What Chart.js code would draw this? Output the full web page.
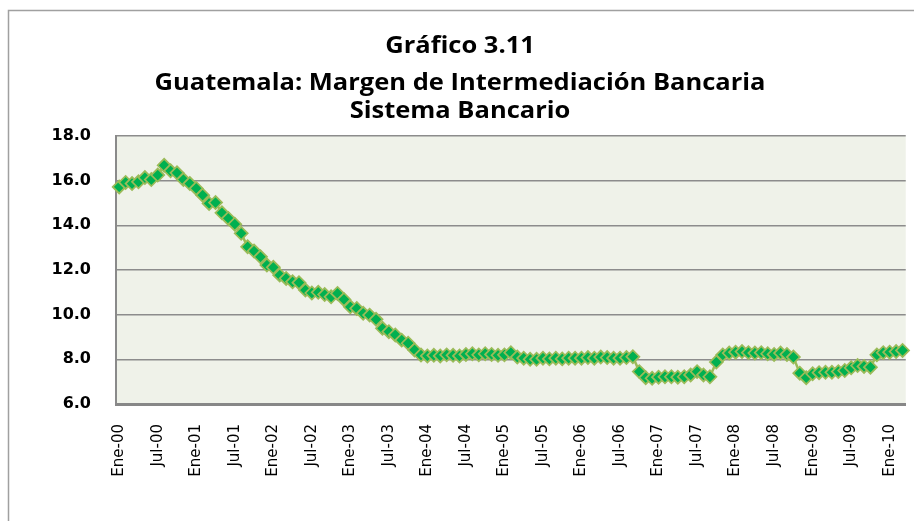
<!DOCTYPE html>
<html><head><meta charset="utf-8">
<script src="https://cdn.jsdelivr.net/npm/chart.js@4"></script>
<style>html,body{margin:0;padding:0;background:#fff;}canvas{display:block;}</style>
</head><body>
<canvas id="c" width="914" height="521"></canvas>
<script>
// ---- DATA ----
const titleLines = ["Gráfico 3.11", "Guatemala: Margen de Intermediación Bancaria", "Sistema Bancario"];
const monthNames = ["Ene","Feb","Mar","Abr","May","Jun","Jul","Ago","Sep","Oct","Nov","Dic"];
const yearSuffixes = ["00","01","02","03","04","05","06","07","08","09","10"];
const margen2000 = [15.72, 15.92, 15.87, 15.95, 16.14, 16.05, 16.25, 16.69, 16.44, 16.35, 16.05, 15.87];
const margen2001 = [15.65, 15.35, 14.98, 15.02, 14.56, 14.31, 14.05, 13.64, 13.04, 12.85, 12.59, 12.22];
const margen2002 = [12.12, 11.77, 11.62, 11.47, 11.43, 11.10, 10.97, 11.00, 10.90, 10.80, 10.95, 10.68];
const margen2003 = [10.35, 10.28, 10.06, 9.98, 9.79, 9.39, 9.24, 9.09, 8.86, 8.72, 8.42, 8.19];
const margen2004 = [8.15, 8.18, 8.15, 8.20, 8.18, 8.15, 8.22, 8.25, 8.20, 8.25, 8.22, 8.18];
const margen2005 = [8.20, 8.30, 8.10, 8.05, 8.00, 8.00, 8.05, 8.02, 8.05, 8.02, 8.05, 8.05];
const margen2006 = [8.05, 8.08, 8.05, 8.10, 8.08, 8.05, 8.05, 8.08, 8.12, 7.45, 7.18, 7.15];
const margen2007 = [7.20, 7.22, 7.22, 7.20, 7.22, 7.30, 7.45, 7.30, 7.22, 7.88, 8.20, 8.28];
const margen2008 = [8.32, 8.35, 8.30, 8.28, 8.30, 8.25, 8.22, 8.28, 8.22, 8.10, 7.38, 7.18];
const margen2009 = [7.35, 7.40, 7.42, 7.42, 7.45, 7.50, 7.62, 7.72, 7.68, 7.65, 8.20, 8.30];
const margen2010 = [8.32, 8.35, 8.40];
const yMin = 6, yMax = 18, yStep = 2;
const labelEvery = 6;

const values = [].concat(margen2000, margen2001, margen2002, margen2003, margen2004,
  margen2005, margen2006, margen2007, margen2008, margen2009, margen2010);
const categories = [];
yearSuffixes.forEach(y => monthNames.forEach(m => { if (categories.length < values.length) categories.push(m + "-" + y); }));

// ---- PLUGINS ----
const frame = {
  id: 'frame',
  beforeDraw(chart) {
    const ctx = chart.ctx, a = chart.chartArea;
    ctx.save();
    ctx.fillStyle = '#ffffff';
    ctx.fillRect(0, 0, chart.width, chart.height);
    ctx.strokeStyle = '#a0a0a0';
    ctx.lineWidth = 1.5;
    ctx.beginPath();
    ctx.moveTo(8.5, chart.height + 2);
    ctx.lineTo(8.5, 10.5);
    ctx.lineTo(chart.width + 2, 10.5);
    ctx.stroke();
    ctx.fillStyle = '#eff2e9';
    ctx.fillRect(a.left, a.top, a.right - a.left, a.bottom - a.top);
    ctx.restore();
  }
};
const titleDraw = {
  id: 'titleDraw',
  afterDraw(chart) {
    const ctx = chart.ctx;
    const baselines = [53, 90, 118];
    const cx = 460;
    ctx.save();
    ctx.font = 'bold 23px "Open Sans"';
    ctx.fillStyle = '#000';
    ctx.textAlign = 'center';
    ctx.textBaseline = 'alphabetic';
    const w2 = ctx.measureText(titleLines[1]).width;
    const sx = 611 / w2;
    titleLines.forEach((t, i) => {
      ctx.save();
      ctx.translate(cx, baselines[i]);
      ctx.scale(sx, 1);
      ctx.fillText(t, 0, 0);
      ctx.restore();
    });
    ctx.restore();
  }
};

new Chart(document.getElementById('c'), {
  type: 'line',
  data: {
    labels: categories,
    datasets: [{
      data: values,
      borderColor: '#9bbb59',
      borderWidth: 2.5,
      pointStyle: 'rectRot',
      pointRadius: 6.5,
      pointBackgroundColor: '#00b050',
      pointBorderColor: '#9bbb59',
      pointBorderWidth: 1.75,
      tension: 0,
      fill: false
    }]
  },
  options: {
    responsive: false,
    animation: false,
    events: [],
    layout: { padding: { top: 136, right: 7, bottom: 0, left: 0 } },
    plugins: { legend: { display: false }, title: { display: false }, tooltip: { enabled: false } },
    scales: {
      x: {
        type: 'category',
        offset: true,
        grid: { display: true, color: 'rgba(0,0,0,0)', drawTicks: false },
        border: { display: true, color: '#878787', width: 3 },
        ticks: {
          autoSkip: false,
          minRotation: 90,
          maxRotation: 90,
          padding: 20,
          color: '#000',
          font: { family: '"DejaVu Sans"', size: 15 },
          callback: function(v, i) { return i % labelEvery === 0 ? categories[i] : ''; }
        },
        afterFit(scale) { scale.height = 117; scale.paddingRight = 0; scale.paddingLeft = 0; }
      },
      y: {
        min: yMin,
        max: yMax,
        grid: { color: '#8c8c8c', lineWidth: 1.5, drawTicks: false },
        border: { display: true, color: '#8a8a8a', width: 2 },
        ticks: {
          stepSize: yStep,
          padding: 25,
          color: '#000',
          font: { family: '"DejaVu Sans"', size: 16, weight: 'bold' },
          callback: v => Number(v).toFixed(1)
        },
        afterFit(scale) { scale.width = 116; scale.paddingTop = 0; scale.paddingBottom = 0; }
      }
    }
  },
  plugins: [frame, titleDraw]
});
</script>
</body></html>
